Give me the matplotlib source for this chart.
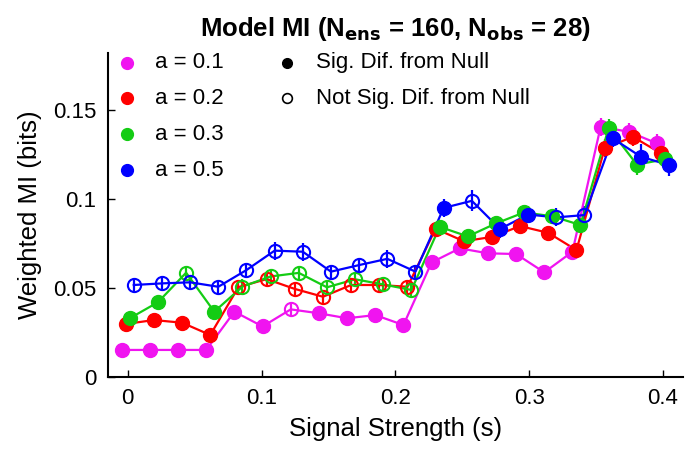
import numpy as np
import matplotlib
matplotlib.use('Agg')
import matplotlib.pyplot as plt

plt.rcParams['font.family'] = ['Liberation Sans', 'DejaVu Sans']

# signal strengths (20 levels between 0 and 0.4)
signal = np.linspace(0, 0.4, 20)

labels = ['a = 0.1', 'a = 0.2', 'a = 0.3', 'a = 0.5']
colors = ['#f014f0', '#ff0000', '#14cc14', '#0000ff']
offsets = [-0.0045, -0.0015, 0.0015, 0.0045]

mi_a01 = [0.0152, 0.0152, 0.0152, 0.0152, 0.0367, 0.0284, 0.0380, 0.0358, 0.0330, 0.0348,
          0.0292, 0.0644, 0.0723, 0.0695, 0.0691, 0.0588, 0.0704, 0.1406, 0.1378, 0.1313]
mi_a02 = [0.0298, 0.0320, 0.0305, 0.0236, 0.0505, 0.0550, 0.0495, 0.0451, 0.0517, 0.0517,
          0.0507, 0.0833, 0.0763, 0.0787, 0.0848, 0.0810, 0.0713, 0.1285, 0.1350, 0.1257]
mi_a03 = [0.0330, 0.0420, 0.0586, 0.0367, 0.0508, 0.0565, 0.0585, 0.0504, 0.0549, 0.0520,
          0.0489, 0.0844, 0.0790, 0.0863, 0.0925, 0.0903, 0.0854, 0.1400, 0.1194, 0.1223]
mi_a05 = [0.0517, 0.0526, 0.0532, 0.0507, 0.0601, 0.0710, 0.0704, 0.0592, 0.0629, 0.0664,
          0.0592, 0.0950, 0.0990, 0.0832, 0.0913, 0.0897, 0.0910, 0.1341, 0.1238, 0.1191]

err_a01 = [0.002, 0.002, 0.002, 0.002, 0.003, 0.003, 0.004, 0.003, 0.003, 0.003,
           0.003, 0.004, 0.004, 0.004, 0.004, 0.004, 0.004, 0.005, 0.005, 0.005]
err_a02 = [0.003, 0.003, 0.003, 0.003, 0.004, 0.004, 0.004, 0.004, 0.004, 0.004,
           0.004, 0.004, 0.004, 0.004, 0.004, 0.004, 0.004, 0.005, 0.005, 0.005]
err_a03 = [0.003, 0.003, 0.004, 0.003, 0.004, 0.004, 0.004, 0.004, 0.004, 0.004,
           0.004, 0.004, 0.004, 0.004, 0.004, 0.004, 0.004, 0.005, 0.006, 0.005]
err_a05 = [0.004, 0.004, 0.004, 0.004, 0.004, 0.005, 0.005, 0.004, 0.004, 0.005,
           0.004, 0.005, 0.006, 0.005, 0.005, 0.005, 0.005, 0.005, 0.007, 0.006]

# 1 = significantly different from null (filled), 0 = not (open)
sig_a01 = [1, 1, 1, 1, 1, 1, 0, 1, 1, 1, 1, 1, 1, 1, 1, 1, 1, 1, 1, 1]
sig_a02 = [1, 1, 1, 1, 0, 0, 0, 0, 0, 0, 0, 1, 1, 1, 1, 1, 1, 1, 1, 1]
sig_a03 = [1, 1, 0, 1, 0, 0, 0, 0, 0, 0, 0, 1, 1, 1, 1, 1, 1, 1, 1, 1]
sig_a05 = [0, 0, 0, 0, 0, 0, 0, 0, 0, 0, 0, 1, 0, 1, 1, 0, 0, 1, 1, 1]

series = [(mi_a01, err_a01, sig_a01), (mi_a02, err_a02, sig_a02),
          (mi_a03, err_a03, sig_a03), (mi_a05, err_a05, sig_a05)]

fig = plt.figure(figsize=(6.97, 4.66), dpi=100)
ax = fig.add_axes([0.1545, 0.191, 0.8255, 0.695])

for (mi, err, sig), col, off in zip(series, colors, offsets):
    x = signal + off
    y = np.array(mi)
    s = np.array(sig) == 1
    ax.errorbar(x, y, yerr=err, color=col, lw=1.6, elinewidth=1.6, capsize=0, zorder=2)
    ax.plot(x[s], y[s], 'o', ms=10, color=col, mec=col, zorder=3)
    ax.plot(x[~s], y[~s], 'o', ms=9.5, mfc='none', mec=col, mew=1.5, zorder=3)

# legend drawn by hand, like the original
fs = 16
leg_y = [0.970, 0.860, 0.749, 0.639]
for lab, col, yy in zip(labels, colors, leg_y):
    ax.plot(0.033, yy, 'o', ms=8.5, color=col, transform=ax.transAxes, clip_on=False)
    ax.text(0.082, yy, lab, fontsize=fs, va='center', transform=ax.transAxes)
ax.plot(0.312, 0.970, 'o', ms=7, color='black', transform=ax.transAxes, clip_on=False)
ax.text(0.362, 0.970, 'Sig. Dif. from Null', fontsize=fs, va='center', transform=ax.transAxes)
ax.plot(0.312, 0.860, 'o', ms=7, mfc='none', mec='black', mew=1.2, transform=ax.transAxes, clip_on=False)
ax.text(0.362, 0.860, 'Not Sig. Dif. from Null', fontsize=fs, va='center', transform=ax.transAxes)

ax.set_xlim(-0.015, 0.415)
ax.set_ylim(0, 0.182)
ax.set_xticks([0, 0.1, 0.2, 0.3, 0.4])
ax.set_xticklabels(['0', '0.1', '0.2', '0.3', '0.4'])
ax.set_yticks([0, 0.05, 0.1, 0.15])
ax.set_yticklabels(['0', '0.05', '0.1', '0.15'])
ax.tick_params(direction='in', length=5, width=1, labelsize=fs, pad=8)
for side in ['top', 'right']:
    ax.spines[side].set_visible(False)
for side in ['left', 'bottom']:
    ax.spines[side].set_linewidth(1.5)

ax.set_xlabel('Signal Strength (s)', fontsize=18.5, labelpad=6)
ax.set_ylabel('Weighted MI (bits)', fontsize=18.5, labelpad=8)
ax.set_title(r'Model MI (N$_{\mathbf{ens}}$ = 160, N$_{\mathbf{obs}}$ = 28)',
             fontsize=18.5, fontweight='bold', pad=12)

fig.savefig('out.png', dpi=100)
